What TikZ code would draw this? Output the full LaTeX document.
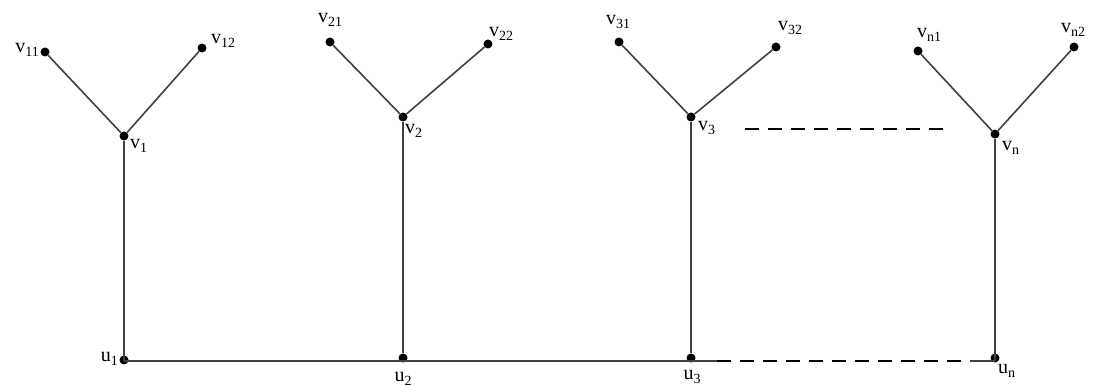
\documentclass[tikz,border=0pt]{standalone}
\usepackage{fontspec}
\setmainfont{Liberation Serif}
\newcommand{\vl}[2]{#1\raisebox{-0.35ex}{\fontsize{14}{15}\selectfont #2}}
\begin{document}
\begin{tikzpicture}[x=1pt,y=-1pt,
  dot/.style={circle,fill=black,inner sep=0pt,minimum size=9pt},
  edge/.style={draw=black!75,line width=1.6pt},
  dashline/.style={draw=black,line width=1.6pt,dash pattern=on 14pt off 9pt},
  lbl/.style={inner sep=1pt,font=\fontsize{20}{22}\selectfont}]
\useasboundingbox (0,0) rectangle (1096,387);
% nodes
\node[dot] (v11) at (45,52) {};
\node[dot] (v12) at (202,48) {};
\node[dot] (v1) at (124,136) {};
\node[dot] (u1) at (124,360) {};
\node[dot] (v21) at (330,42) {};
\node[dot] (v22) at (488,44) {};
\node[dot] (v2) at (403,117) {};
\node[dot] (u2) at (403,358) {};
\node[dot] (v31) at (619,42) {};
\node[dot] (v32) at (776,47) {};
\node[dot] (v3) at (691,117) {};
\node[dot] (u3) at (691,358) {};
\node[dot] (vn1) at (918,51) {};
\node[dot] (vn2) at (1074,47) {};
\node[dot] (vn) at (995,134) {};
\node[dot] (un) at (995,358) {};
\coordinate (dA) at (745,129);
\coordinate (dB) at (948,129);
\coordinate (u3r) at (717,361);
\coordinate (unl) at (970,361);
\coordinate (u1b) at (124,361);
\coordinate (unb) at (995,361);
% edges
\draw[edge] (v11) -- (v1) -- (v12);
\draw[edge] (v21) -- (v2) -- (v22);
\draw[edge] (v31) -- (v3) -- (v32);
\draw[edge] (vn1) -- (vn) -- (vn2);
\draw[edge] (v1) -- (u1b);
\draw[edge] (v2) -- (u2);
\draw[edge] (v3) -- (u3);
\draw[edge] (vn) -- (unb);
\draw[edge] (u1b) -- (u3r);
\draw[edge] (unl) -- (unb);
\draw[dashline] (u3r) -- (unl);
\draw[dashline] (dA) -- (dB);
% labels
\node[lbl,anchor=east] at (40,50) {\vl{v}{11}};
\node[lbl,anchor=west] at (210,41) {\vl{v}{12}};
\node[lbl,anchor=west] at (129,146) {\vl{v}{1}};
\node[lbl] at (330,20) {\vl{v}{21}};
\node[lbl,anchor=west] at (488,34) {\vl{v}{22}};
\node[lbl,anchor=west] at (404,131) {\vl{v}{2}};
\node[lbl] at (618,22) {\vl{v}{31}};
\node[lbl,anchor=west] at (777,28) {\vl{v}{32}};
\node[lbl,anchor=west] at (697,128) {\vl{v}{3}};
\node[lbl] at (929,35) {\vl{v}{n1}};
\node[lbl,anchor=west] at (1060,30) {\vl{v}{n2}};
\node[lbl,anchor=west] at (1001,148) {\vl{v}{n}};
\node[lbl,anchor=east] at (119,359) {\vl{u}{1}};
\node[lbl] at (403,379) {\vl{u}{2}};
\node[lbl] at (692,377) {\vl{u}{3}};
\node[lbl,anchor=west] at (997,371) {\vl{u}{n}};
\end{tikzpicture}
\end{document}
